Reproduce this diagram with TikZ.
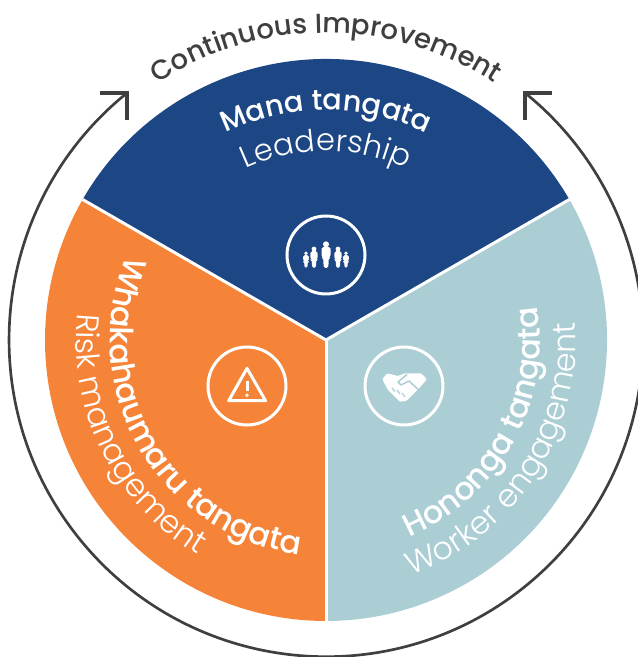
\documentclass[tikz,border=0pt]{standalone}
\usepackage{fontspec}
\setmainfont{Poppins}
\newfontfamily\lightface{Poppins Light}
\newfontfamily\mediumface{Poppins Medium}
\usepackage{tikz}
\usetikzlibrary{decorations.text, calc}

\definecolor{manablue}{HTML}{1C4684}
\definecolor{riskorange}{HTML}{F58438}
\definecolor{workerblue}{HTML}{ABCDD4}
\definecolor{ringgrey}{HTML}{3F3F3F}

\newcommand{\headfont}{\mediumface\fontsize{27}{27}\selectfont}
\newcommand{\topfont}{\mediumface\fontsize{24.5}{25}\selectfont}
\newcommand{\subfont}{\lightface\fontsize{27}{27}\selectfont}
\newcommand{\leadfont}{\lightface\fontsize{26}{26}\selectfont}
\newcommand{\ringfont}{\mediumface\fontsize{23.5}{24}\selectfont}

\begin{document}
\begin{tikzpicture}[
    x=0.03cm, y=0.03cm,
    sector/.style={draw=white, line width=0.09cm},
    iconring/.style={draw=white, circle, line width=0.09cm, minimum size=2.34cm, inner sep=0pt},
    ringline/.style={draw=ringgrey, line width=0.08cm},
    barb/.style={draw=ringgrey, line width=0.1cm, miter limit=10},
    arctext/.style 2 args={decorate, decoration={text along path, text align=center, text color=#1, text={#2}}},
    person/.pic={
        \fill[white] (0,23.7) circle (3);
        \fill[white, rounded corners=1.5] (-4.5,21) -- (4.5,21) -- (4.5,11) -- (2.8,10) -- (2.3,0) -- (-2.3,0) -- (-2.8,10) -- (-4.5,11) -- cycle;
    }]

    \useasboundingbox (-326,-317) rectangle (311,340);

    % pie
    \fill[manablue] (0,0) -- (150:281) arc[start angle=150, end angle=30, radius=281] -- cycle;
    \fill[riskorange] (0,0) -- (270:281) arc[start angle=270, end angle=150, radius=281] -- cycle;
    \fill[workerblue] (0,0) -- (30:281) arc[start angle=30, end angle=-90, radius=281] -- cycle;
    \draw[sector] (150:281) -- (0,0) -- (30:281);
    \draw[sector] (0,0) -- (270:281);

    % ring with its two arrow heads
    \coordinate (lefttip) at (-199,247);
    \coordinate (righttip) at (199,247);
    \draw[ringline] (lefttip) arc[start angle=128.9, end angle=411.1, radius=317];
    \draw[barb] ($(lefttip)+(-27,0)$) -- (lefttip) -- ($(lefttip)+(0,-27)$);
    \draw[barb] ($(righttip)+(27,0)$) -- (righttip) -- ($(righttip)+(0,-27)$);

    % curved labels
    \path[arctext={ringgrey}{|\ringfont|Continuous Improvement}] (160:307) arc[start angle=160, end angle=20, radius=307];
    \path[arctext={white}{|\topfont|Mana tangata}] (150:230) arc[start angle=150, end angle=30, radius=230];
    \path[arctext={white}{|\leadfont|Leadership}] (150:189) arc[start angle=150, end angle=30, radius=189];
    \path[arctext={white}{|\headfont|Whakahaumaru tangata}] (135:216) arc[start angle=135, end angle=285, radius=216];
    \path[arctext={white}{|\subfont|Risk management}] (130:250) arc[start angle=130, end angle=283, radius=250];
    \path[arctext={white}{|\headfont|Hononga tangata}] (261:214) arc[start angle=261, end angle=401, radius=214];
    \path[arctext={white}{|\subfont|Worker engagement}] (257:250) arc[start angle=257, end angle=397, radius=250];

    % icons
    \node[iconring] (people) at (0,85) {};
    \pic[scale=0.62] at (-20,72) {person};
    \pic[scale=0.62] at (20,72) {person};
    \pic[scale=0.8] at (-12,72) {person};
    \pic[scale=0.8] at (12,72) {person};
    \pic at (0,72) {person};

    \node[iconring] (risk) at (-79,-46) {};
    \draw[white, line width=0.09cm, line join=round] ($(risk)+(0,17.7)$) -- ($(risk)+(-18.3,-14.7)$) -- ($(risk)+(18.5,-14.7)$) -- cycle;
    \draw[white, line width=0.09cm] ($(risk)+(0,4.5)$) -- ($(risk)+(0,-5.5)$);
    \fill[white] ($(risk)+(0,-9.3)$) circle (1.8);

    \node[iconring] (hands) at (78,-46) {};
    \begin{scope}[shift={(hands)}]
        \fill[white, rounded corners=1] (-21.7,6.7) -- (-17,12.7) -- (-6,10) -- (0.7,12.7) -- (17.3,12.7) -- (23,6.7) -- (14,-3.3) -- (2.3,-15) -- (-4.3,-15.7) -- (-16,-4) -- cycle;
        \draw[workerblue, line width=0.045cm, line join=round] (3,11.5) -- (-6,4) -- (-3,1) -- (5,5) -- (14,-3.3);
        \draw[workerblue, line width=0.035cm] (-12,-2) -- (-9,-5.5);
        \draw[workerblue, line width=0.035cm] (-7,-4) -- (-4,-8);
        \draw[workerblue, line width=0.035cm] (-2,-7) -- (1,-11);
    \end{scope}
\end{tikzpicture}
\end{document}
